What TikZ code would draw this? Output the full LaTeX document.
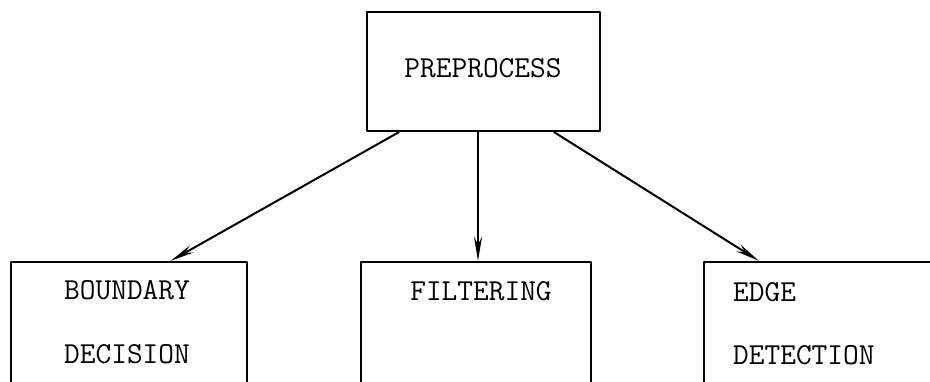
\documentclass[tikz,border=0pt]{standalone}
\usepackage{fontspec}
\usetikzlibrary{arrows.meta}

\begin{document}
\begin{tikzpicture}[x=1pt,y=1pt,>={Stealth[length=24pt,width=8pt]},line cap=round,line join=round,
    box/.style={draw,line width=2.4pt,inner sep=0pt},
    lbl/.style={inner sep=0pt,font=\fontsize{30.5}{34}\selectfont\ttfamily},
    link/.style={->,line width=2pt}]
  \clip (0,0) rectangle (930,381);
  \node[box,minimum width=233pt,minimum height=119pt] (prep) at (483.5,309.5) {};
  \node[box,minimum width=236pt,minimum height=150pt] (bnd) at (129,44) {};
  \node[box,minimum width=230pt,minimum height=150pt] (fil) at (476,44) {};
  \node[box,minimum width=236pt,minimum height=150pt] (edge) at (822,44) {};
  \node[lbl] (tprep) at (483,313) {PREPROCESS};
  \node[lbl] (tbnd) at (127,91) {BOUNDARY};
  \node[lbl] (tdec) at (127,27) {DECISION};
  \node[lbl] (tfil) at (481,90) {FILTERING};
  \node[lbl,anchor=west] (tedge) at (733,89) {EDGE};
  \node[lbl,anchor=west] (tdet) at (733,26) {DETECTION};
  \draw[link] ([xshift=33pt]prep.south west) -- ([xshift=161pt]bnd.north west);
  \draw[link] ([xshift=-5.5pt]prep.south) -- ([xshift=2pt]fil.north);
  \draw[link] ([xshift=-47pt]prep.south east) -- ([xshift=56pt]edge.north west);
\end{tikzpicture}
\end{document}
